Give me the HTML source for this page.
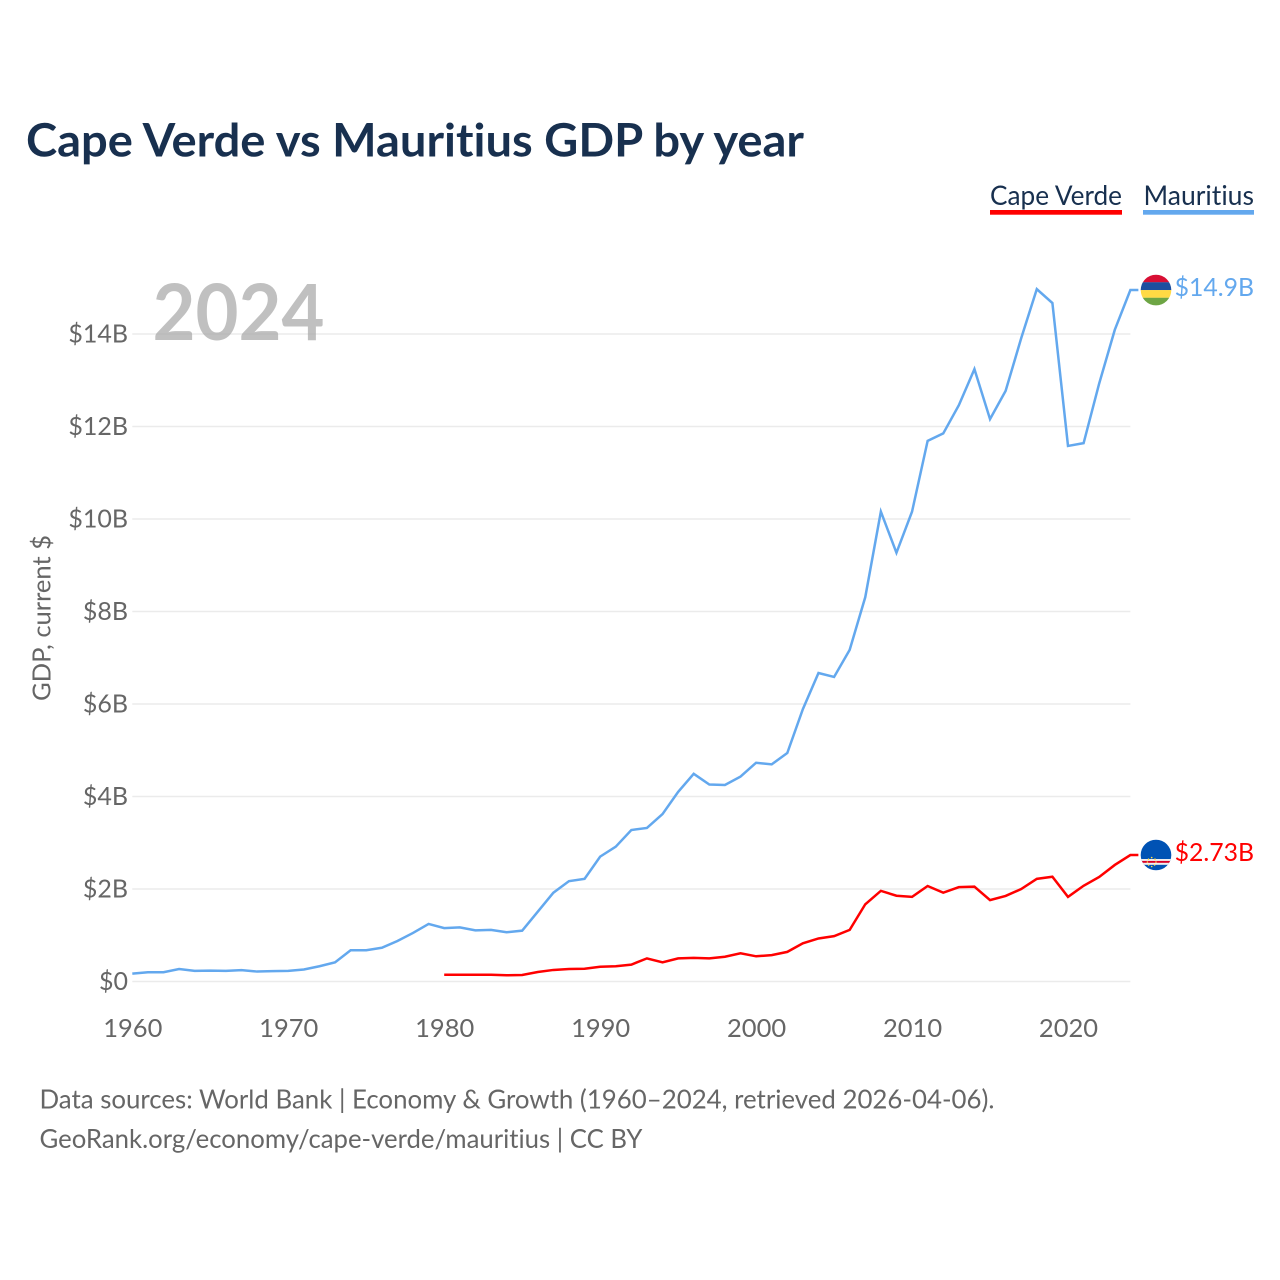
<!DOCTYPE html>
<html lang="en">
<head>
<meta charset="utf-8">
<title>Cape Verde vs Mauritius GDP by year</title>
<style>
html,body{margin:0;padding:0;background:#fff;}
svg{display:block;}
text{font-family:"Lato","Carlito","Liberation Sans",sans-serif;font-variant-ligatures:none;font-feature-settings:"liga" 0,"clig" 0;}
</style>
</head>
<body>
<svg id="chart" xmlns="http://www.w3.org/2000/svg" width="1280" height="1280" viewBox="0 0 1280 1280">
  <defs>
    <clipPath id="flag-clip"><circle cx="0" cy="0" r="15.3"/></clipPath>
  </defs>
  <rect x="0" y="0" width="1280" height="1280" fill="#ffffff"/>
  <text x="26" y="156.5" font-size="46" font-weight="700" fill="#18304f" textLength="778" lengthAdjust="spacingAndGlyphs">Cape Verde vs Mauritius GDP by year</text>

  <g>
    <g>
      <text x="990" y="205" font-size="27" fill="#18304f" textLength="132" lengthAdjust="spacingAndGlyphs">Cape Verde</text>
      <rect x="990" y="210" width="132" height="4.7" fill="#ff0000"/>
    </g>
    <g>
      <text x="1143.5" y="205" font-size="27" fill="#18304f" textLength="110.5" lengthAdjust="spacingAndGlyphs">Mauritius</text>
      <rect x="1143" y="210" width="111" height="4.7" fill="#63a8ee"/>
    </g>
  </g>

  <g id="grid"></g>
  <g id="y-ticks"></g>
  <g id="x-ticks"></g>

  <text transform="translate(50.5,618) rotate(-90)" text-anchor="middle" font-size="25.5" fill="#666666" textLength="166" lengthAdjust="spacingAndGlyphs">GDP, current $</text>

  <text x="152.5" y="340" font-size="78" font-weight="700" fill="#a8a8a8" fill-opacity="0.72" textLength="172" lengthAdjust="spacingAndGlyphs">2024</text>

  <g id="series"></g>

  <g id="flag-mauritius">
    <g clip-path="url(#flag-clip)">
      <rect x="-16" y="-16" width="32" height="8.3" fill="#d80f34"/>
      <rect x="-16" y="-7.8" width="32" height="7.9" fill="#1c4f9f"/>
      <rect x="-16" y="0" width="32" height="7.8" fill="#ffda44"/>
      <rect x="-16" y="7.7" width="32" height="8.4" fill="#6da544"/>
    </g>
  </g>
  <g id="flag-cape-verde">
    <g clip-path="url(#flag-clip)">
      <rect x="-16" y="-16" width="32" height="32" fill="#0052b4"/>
      <rect x="-16" y="4" width="32" height="5.8" fill="#f0f0f0"/>
      <rect x="-16" y="5.9" width="32" height="1.9" fill="#d80027"/>
      <circle cx="-4.3" cy="2.6" r="0.8" fill="#ffda44"/>
      <circle cx="-1" cy="4.2" r="0.8" fill="#ffda44"/>
      <circle cx="0" cy="7" r="0.8" fill="#ffda44"/>
      <circle cx="-1.4" cy="10" r="0.8" fill="#ffda44"/>
      <circle cx="-4.3" cy="11.5" r="0.8" fill="#ffda44"/>
      <circle cx="-7.4" cy="10" r="0.8" fill="#ffda44"/>
      <circle cx="-8.6" cy="7" r="0.8" fill="#ffda44"/>
      <circle cx="-7.5" cy="4.2" r="0.8" fill="#ffda44"/>
    </g>
  </g>
  <g id="end-labels"></g>

  <g fill="#666666" font-size="26">
    <text x="39.5" y="1108.5" textLength="955" lengthAdjust="spacingAndGlyphs">Data sources: World Bank | Economy &amp; Growth (1960–2024, retrieved 2026-04-06).</text>
    <text x="39.5" y="1148" textLength="603" lengthAdjust="spacingAndGlyphs">GeoRank.org/economy/cape-verde/mauritius | CC BY</text>
  </g>
</svg>
<script>
var mauritiusStartYear = 1960;
var mauritiusGdp = [0.17,0.2,0.2,0.27,0.23,0.235,0.23,0.245,0.215,0.225,0.23,0.26,0.33,0.415,0.675,0.675,0.73,0.875,1.05,1.245,1.155,1.17,1.105,1.115,1.065,1.1,1.51,1.92,2.17,2.22,2.7,2.915,3.275,3.32,3.62,4.1,4.49,4.26,4.25,4.43,4.73,4.695,4.94,5.89,6.67,6.585,7.17,8.31,10.16,9.27,10.16,11.69,11.85,12.46,13.24,12.16,12.77,13.91,14.97,14.67,11.58,11.64,12.93,14.09,14.95];
var capeVerdeStartYear = 1980;
var capeVerdeGdp = [0.147,0.145,0.145,0.145,0.134,0.14,0.205,0.25,0.27,0.275,0.32,0.33,0.365,0.5,0.415,0.5,0.51,0.5,0.535,0.61,0.545,0.57,0.64,0.825,0.93,0.98,1.115,1.67,1.96,1.855,1.83,2.065,1.92,2.04,2.05,1.76,1.85,2,2.22,2.265,1.83,2.07,2.26,2.52,2.735];
var yTickValues = [0,2,4,6,8,10,12,14];
var yTickLabels = ["$0","$2B","$4B","$6B","$8B","$10B","$12B","$14B"];
var xTickValues = [1960,1970,1980,1990,2000,2010,2020];
var xTickLabels = ["1960","1970","1980","1990","2000","2010","2020"];
var mauritiusEndLabel = "$14.9B";
var capeVerdeEndLabel = "$2.73B";

var SVG_NS = "http://www.w3.org/2000/svg";
function xScale(year) { return 132.3 + (year - 1960) * 15.595; }
function yScale(value) { return 981.5 - value * 46.25; }
function make(tag, parentId) {
  var el = document.createElementNS(SVG_NS, tag);
  document.getElementById(parentId).appendChild(el);
  return el;
}

yTickValues.forEach(function (v, i) {
  var line = make("line", "grid");
  
  
  line.setAttribute("x1", xScale(1960));
  line.setAttribute("x2", xScale(2024));
  line.setAttribute("y1", yScale(v));
  line.setAttribute("y2", yScale(v));
  line.setAttribute("stroke", "#ebebeb");
  line.setAttribute("stroke-width", "1.5");

  var label = make("text", "y-ticks");
  
  
  label.setAttribute("x", 128);
  label.setAttribute("y", yScale(v) + 8.5);
  label.setAttribute("text-anchor", "end");
  label.setAttribute("font-size", "25");
  label.setAttribute("fill", "#666666");
  label.textContent = yTickLabels[i];
});

xTickValues.forEach(function (v, i) {
  var label = make("text", "x-ticks");
  
  
  label.setAttribute("x", xScale(v) + 0.5);
  label.setAttribute("y", 1037);
  label.setAttribute("text-anchor", "middle");
  label.setAttribute("font-size", "25.5");
  label.setAttribute("fill", "#666666");
  label.textContent = xTickLabels[i];
});

function drawSeries(values, startYear, color) {
  var pts = values.map(function (v, i) {
    return xScale(startYear + i).toFixed(2) + "," + yScale(v).toFixed(2);
  });
  var lastX = xScale(startYear + values.length - 1);
  var lastY = yScale(values[values.length - 1]);
  pts.push((lastX + 8).toFixed(2) + "," + lastY.toFixed(2));
  var path = make("polyline", "series");
  
  
  path.setAttribute("points", pts.join(" "));
  path.setAttribute("fill", "none");
  path.setAttribute("stroke", color);
  path.setAttribute("stroke-width", "2.5");
  path.setAttribute("stroke-linejoin", "miter");
  return lastY;
}

function drawEnd(lastY, flagId, text, color) {
  document.getElementById(flagId).setAttribute("transform", "translate(1156," + lastY.toFixed(2) + ")");
  var label = make("text", "end-labels");
  
  
  label.setAttribute("x", 1254);
  label.setAttribute("y", lastY + 6);
  label.setAttribute("text-anchor", "end");
  label.setAttribute("font-size", "24.8");
  label.setAttribute("fill", color);
  label.textContent = text;
}

var mauritiusY = drawSeries(mauritiusGdp, mauritiusStartYear, "#63a8ee");
var capeVerdeY = drawSeries(capeVerdeGdp, capeVerdeStartYear, "#ff0000");
drawEnd(mauritiusY, "flag-mauritius", mauritiusEndLabel, "#63a8ee");
drawEnd(capeVerdeY, "flag-cape-verde", capeVerdeEndLabel, "#ff0000");
</script>
</body>
</html>
